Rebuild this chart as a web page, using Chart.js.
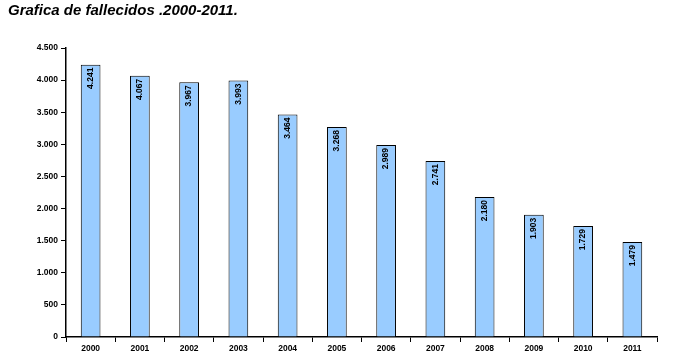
<!DOCTYPE html>
<html>
<head>
<meta charset="utf-8">
<script src="https://cdn.jsdelivr.net/npm/chart.js@4/dist/chart.umd.min.js"></script>
<style>
  html, body { margin: 0; padding: 0; background: #fff; }
  #wrap { position: relative; width: 694px; height: 364px; }
  #title { position: absolute; left: 8px; top: 1px; font: italic bold 15px "Liberation Sans", Arial, sans-serif; color: #000; }
</style>
</head>
<body>
<div id="wrap">
  <div id="title">Grafica de fallecidos .2000-2011.</div>
  <canvas id="fallecidos" width="694" height="364"></canvas>
</div>
<script>
const years = ["2000", "2001", "2002", "2003", "2004", "2005", "2006", "2007", "2008", "2009", "2010", "2011"];
const deaths = [4241, 4067, 3967, 3993, 3464, 3268, 2989, 2741, 2180, 1903, 1729, 1479];
const yTicks = [0, 500, 1000, 1500, 2000, 2500, 3000, 3500, 4000, 4500];

const fmt = (v) => v.toString().replace(/\B(?=(\d{3})+(?!\d))/g, ".");

// value labels, rotated (read bottom to top), at the top inside each bar
const barLabels = {
    id: "barLabels",
    afterDatasetsDraw(chart) {
        const ctx = chart.ctx;
        const meta = chart.getDatasetMeta(0);
        ctx.save();
        ctx.font = "bold 8.5px 'Liberation Sans', Arial, sans-serif";
        ctx.fillStyle = "#000";
        ctx.textAlign = "right";
        ctx.textBaseline = "middle";
        meta.data.forEach((bar, i) => {
            ctx.save();
            ctx.translate(bar.x, bar.y + 3);
            ctx.rotate(-Math.PI / 2);
            ctx.fillText(fmt(deaths[i]), 0, 0);
            ctx.restore();
        });
        ctx.restore();
    }
};

const tickFont = { family: "'Liberation Sans', Arial, sans-serif", size: 8.5, weight: "bold" };

new Chart(document.getElementById("fallecidos").getContext("2d"), {
    type: "bar",
    data: {
        labels: years,
        datasets: [{
            data: deaths,
            backgroundColor: "#99CCFF",
            borderColor: "#000",
            borderWidth: 1,
            barPercentage: 0.8,
            categoryPercentage: 0.5
        }]
    },
    options: {
        responsive: false,
        animation: false,
        layout: { padding: { left: 0, right: 37, top: 48, bottom: 0 } },
        plugins: { legend: { display: false }, tooltip: { enabled: false } },
        scales: {
            x: {
                grid: { display: true, offset: true, drawOnChartArea: false, tickLength: 5, color: "#000" },
                border: { color: "#000", width: 1.5 },
                ticks: { color: "#000", font: tickFont, maxRotation: 0, padding: 2 },
                afterFit(scale) { scale.height = 27; }
            },
            y: {
                min: 0,
                max: 4500,
                afterBuildTicks(scale) { scale.ticks = yTicks.map(v => ({ value: v })); },
                grid: { display: true, drawOnChartArea: false, tickLength: 5, color: "#000" },
                border: { color: "#000", width: 1.5 },
                ticks: { color: "#000", font: tickFont, padding: 3, callback: (v) => fmt(v) },
                afterFit(scale) { scale.width = 66; }
            }
        }
    },
    plugins: [barLabels]
});
</script>
</body>
</html>
